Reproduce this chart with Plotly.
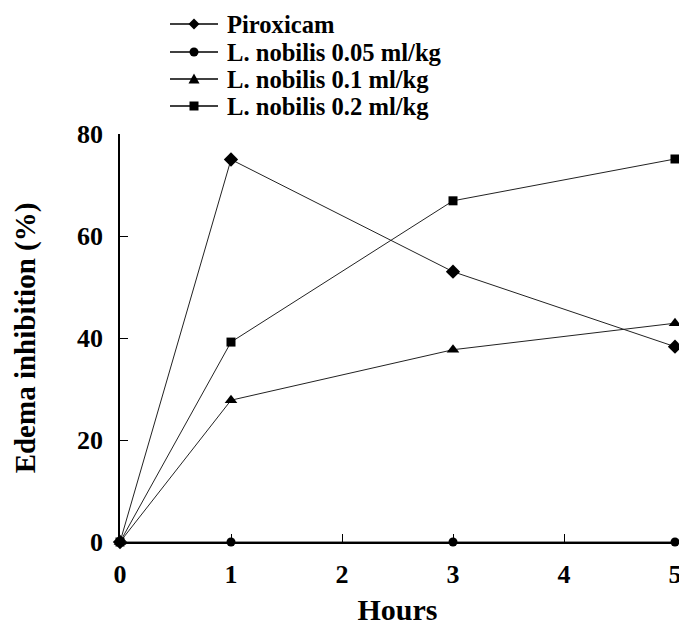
import plotly.graph_objects as go

hours = [0, 1, 3, 5]
piroxicam = [0, 75, 53, 38.3]
nob_005 = [0, 0, 0, 0]
nob_01 = [0, 27.8, 37.7, 42.9]
nob_02 = [0, 39.2, 66.9, 75.1]

names = ["Piroxicam", "L. nobilis 0.05 ml/kg", "L. nobilis 0.1 ml/kg", "L. nobilis 0.2 ml/kg"]
series = [piroxicam, nob_005, nob_01, nob_02]
symbols = ["diamond", "circle", "triangle-up", "square"]
sizes = [11, 9, 11, 9]

FONT = "Liberation Serif"

# pixel geometry of the plot area (used only to place the hand-built legend)
W, H = 679, 626
PL, PR, PT, PB = 120, 675, 134, 542


def px(x):
    return (x - PL) / (PR - PL)


def py(y):
    return (PB - y) / (PB - PT)


fig = go.Figure()
for n, s, sym, sz in zip(names, series, symbols, sizes):
    fig.add_trace(go.Scatter(
        x=hours, y=s, name=n, mode="lines+markers",
        line=dict(color="#222", width=1),
        marker=dict(symbol=sym, size=sz, color="black"),
        cliponaxis=False, showlegend=False,
    ))

# legend (hand built for tight row spacing)
rows_y = [24, 52, 79, 106]
shapes = []
annotations = []
for name, sym, yc in zip(names, symbols, rows_y):
    shapes.append(dict(type="line", xref="paper", yref="paper",
                       x0=px(170), x1=px(218), y0=py(yc), y1=py(yc),
                       line=dict(color="black", width=1.5)))
    cx = 194
    if sym == "diamond":
        pts = [(cx, yc - 5.5), (cx + 5.5, yc), (cx, yc + 5.5), (cx - 5.5, yc)]
    elif sym == "triangle-up":
        pts = [(cx, yc - 5.5), (cx + 5.5, yc + 4.5), (cx - 5.5, yc + 4.5)]
    elif sym == "square":
        pts = [(cx - 4.5, yc - 4.5), (cx + 4.5, yc - 4.5), (cx + 4.5, yc + 4.5), (cx - 4.5, yc + 4.5)]
    else:
        pts = None
    if pts:
        path = "M " + " L ".join(f"{px(a):.5f},{py(b):.5f}" for a, b in pts) + " Z"
        shapes.append(dict(type="path", xref="paper", yref="paper", path=path,
                           fillcolor="black", line=dict(color="black", width=0)))
    else:
        shapes.append(dict(type="circle", xref="paper", yref="paper",
                           x0=px(cx - 4.5), x1=px(cx + 4.5), y0=py(yc + 4.5), y1=py(yc - 4.5),
                           fillcolor="black", line=dict(color="black", width=0)))
    annotations.append(dict(text=name, xref="paper", yref="paper", x=px(225), y=py(yc),
                            xanchor="left", yanchor="middle", showarrow=False,
                            font=dict(family=FONT, size=24.6, color="black", weight="bold")))

fig.update_layout(
    width=W, height=H,
    margin=dict(l=PL, r=W - PR, t=PT, b=H - PB, autoexpand=False),
    paper_bgcolor="white", plot_bgcolor="white",
    font=dict(family=FONT, size=25, color="black", weight="bold"),
    showlegend=False,
    shapes=shapes, annotations=annotations,
    xaxis=dict(range=[0, 5], tickvals=[0, 1, 2, 3, 4, 5], ticks="inside", ticklen=8,
               tickwidth=1, tickcolor="black", showline=True, linecolor="black", linewidth=1.5,
               showgrid=False, zeroline=False, automargin=False, ticklabelstandoff=8,
               ticklabeloverflow="allow",
               tickfont=dict(family=FONT, size=26, weight="bold"),
               title=dict(text="Hours", font=dict(family=FONT, size=30, weight="bold"), standoff=12)),
    yaxis=dict(range=[0, 80], tickvals=[0, 20, 40, 60, 80], ticks="inside", ticklen=8,
               tickwidth=1, tickcolor="black", showline=True, linecolor="black", linewidth=1.5,
               showgrid=False, zeroline=False, automargin=False, ticklabelstandoff=10,
               tickfont=dict(family=FONT, size=26, weight="bold"),
               title=dict(text="Edema inhibition (%)", font=dict(family=FONT, size=29, weight="bold"), standoff=33)),
)

fig.write_html("out.html", config={"displayModeBar": False},
               post_script="document.body.style.margin='0px';")
